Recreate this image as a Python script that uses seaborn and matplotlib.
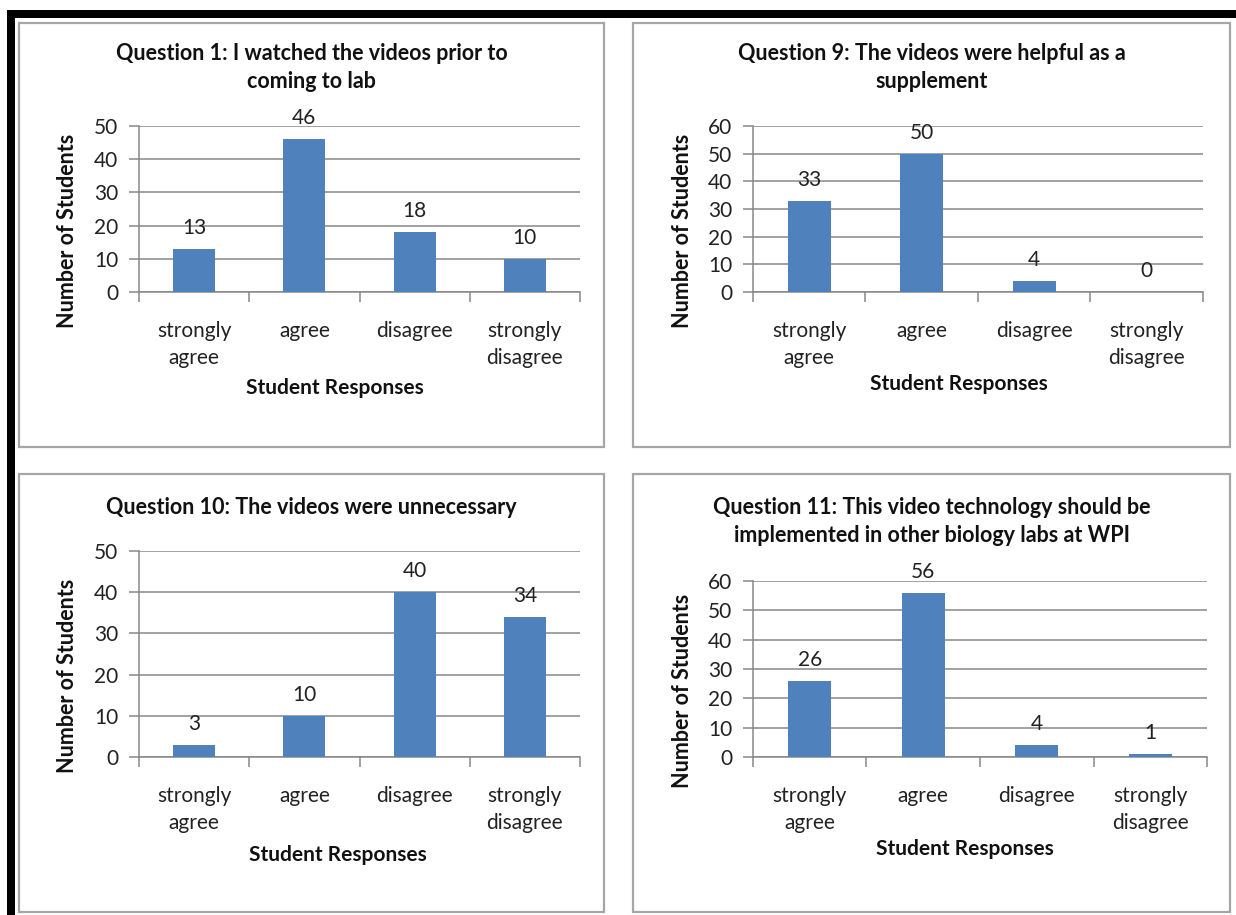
import matplotlib
matplotlib.use("Agg")
import matplotlib.pyplot as plt
import seaborn as sns
import pandas as pd
from matplotlib.patches import Rectangle

sns.set_theme(style="white")
plt.rcParams['font.family'] = ['Lato', 'DejaVu Sans']

categories = ["strongly\nagree", "agree", "disagree", "strongly\ndisagree"]
q1_values = [13, 46, 18, 10]
q9_values = [33, 50, 4, 0]
q10_values = [3, 10, 40, 34]
q11_values = [26, 56, 4, 1]

titles = [
    "Question 1: I watched the videos prior to\ncoming to lab",
    "Question 9: The videos were helpful as a\nsupplement",
    "Question 10: The videos were unnecessary",
    "Question 11: This video technology should be\nimplemented in other biology labs at WPI",
]
y_label = "Number of Students"
x_label = "Student Responses"

W, H = 1236, 915
fig = plt.figure(figsize=(W / 100, H / 100), dpi=100)
fig.patch.set_facecolor("white")

def fx(x):
    return x / W

def fy(y):
    return 1 - y / H

# black frame (top and left)
fig.patches.append(Rectangle((fx(7), fy(18)), fx(W - 7), 8 / H, transform=fig.transFigure,
                             facecolor="black", edgecolor="none", zorder=0))
fig.patches.append(Rectangle((fx(7), 0), 8 / W, fy(10), transform=fig.transFigure,
                             facecolor="black", edgecolor="none", zorder=0))

# panel borders: (left, top, right, bottom)
panels = [(19, 23, 604, 447), (633, 23, 1230, 447), (19, 474, 604, 912), (633, 474, 1230, 912)]
for (l, t, r, b) in panels:
    fig.patches.append(Rectangle((fx(l), fy(b)), (r - l) / W, (b - t) / H, transform=fig.transFigure,
                                 facecolor="white", edgecolor="#a6a6a6", linewidth=1.6, zorder=1))

# axes rectangles: (left, top, right, bottom) in pixels
axes_px = [(139, 126, 580, 292), (753, 126, 1203, 292), (139, 551, 580, 757), (753, 581, 1207, 757)]
ymaxes = [50, 60, 50, 60]
values_list = [q1_values, q9_values, q10_values, q11_values]
title_y = [(54, 82), (54, 82), (508,), (508, 536)]
xlabel_x = [335, 959, 338, 965]
xlabel_y = [388, 384, 855, 849]

bar_color = "#4F81BD"
grid_color = "#878787"
text_color = "#222222"

for i in range(4):
    l, t, r, b = axes_px[i]
    ax = fig.add_axes([fx(l), fy(b), (r - l) / W, (b - t) / H])
    ax.set_zorder(2)
    df = pd.DataFrame({"response": categories, "count": values_list[i]})
    sns.barplot(data=df, x="response", y="count", color=bar_color, width=0.38,
                saturation=1, linewidth=0, ax=ax, zorder=3)
    ax.set_facecolor("none")
    ax.set_xlim(-0.5, 3.5)
    ax.set_ylim(0, ymaxes[i])
    ax.set_yticks(range(0, ymaxes[i] + 1, 10))
    ax.yaxis.grid(True, color=grid_color, linewidth=1.1)
    ax.set_axisbelow(True)
    for s in ["top", "right"]:
        ax.spines[s].set_visible(False)
    for s in ["left", "bottom"]:
        ax.spines[s].set_color(grid_color)
        ax.spines[s].set_linewidth(1.1)
    ax.tick_params(axis="y", which="major", direction="out", length=7, width=1.1,
                   color=grid_color, pad=8, labelsize=15, labelcolor=text_color, left=True)
    ax.tick_params(axis="x", which="major", length=0, pad=21, labelsize=15,
                   labelcolor=text_color, bottom=True)
    ax.set_xticks([-0.5, 0.5, 1.5, 2.5, 3.5], minor=True)
    ax.tick_params(axis="x", which="minor", direction="out", length=7, width=1.1,
                   color=grid_color, bottom=True)
    for lab in ax.get_xticklabels():
        lab.set_linespacing(1.45)
        lab.set_verticalalignment("top")
    ax.set_xlabel("")
    ax.set_ylabel("")
    for c in ax.containers:
        ax.bar_label(c, labels=[str(v) for v in values_list[i]], padding=8,
                     fontsize=15, color=text_color)

    # titles
    pl, pt, pr, pb = panels[i]
    cx = (pl + pr) / 2
    lines = titles[i].split("\n")
    for ln, yy in zip(lines, title_y[i]):
        fig.text(fx(cx), fy(yy), ln, ha="center", va="center", fontsize=15.5,
                 fontweight="bold", color="#111111")
    fig.text(fx(xlabel_x[i]), fy(xlabel_y[i]), x_label, ha="center", va="center",
             fontsize=15, fontweight="bold", color="#111111")
    fig.text(fx(pl + 49), fy((t + b) / 2 + 22), y_label, ha="center", va="center",
             rotation=90, fontsize=15.5, fontweight="bold", color="#111111")

fig.savefig("out.png", dpi=100, facecolor="white")
